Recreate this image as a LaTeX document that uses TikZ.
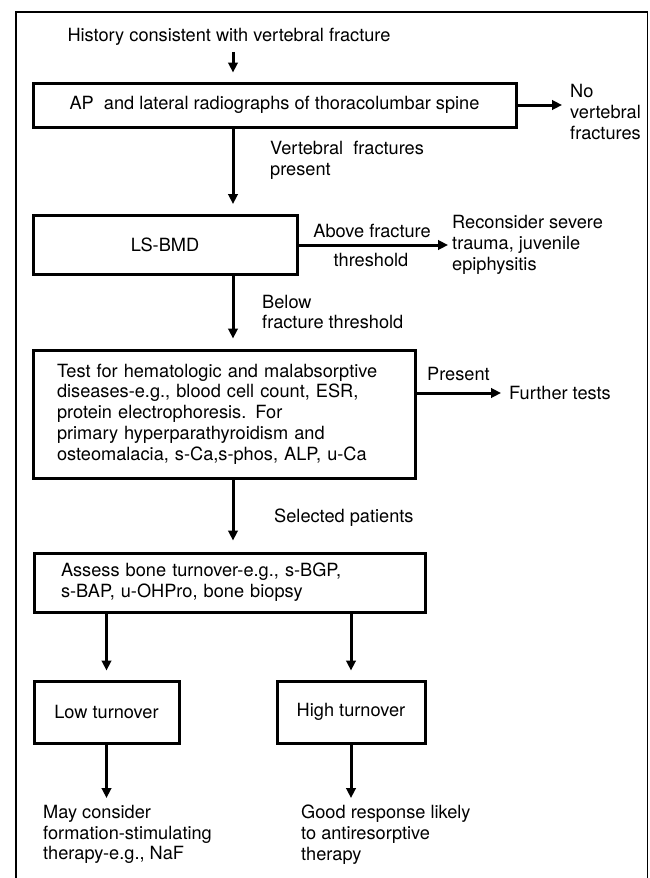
\documentclass[tikz,border=0pt]{standalone}
\usepackage{fontspec}
\setmainfont{TeX Gyre Heros}
\usetikzlibrary{arrows.meta}
\newcommand{\fsz}{\fontsize{18.2}{20.7}\selectfont}
\begin{document}
\begin{tikzpicture}[x=1pt,y=-1pt,
  box/.style={draw, line width=3pt, inner sep=0pt, font=\fsz, align=center},
  lbox/.style={draw, line width=3pt, inner ysep=0pt, font=\fsz, align=left},
  txt/.style={inner sep=0pt, font=\fsz, align=left},
  arr/.style={line width=3pt, -{Triangle[length=10pt,width=9.5pt]}},
  frame/.style={line width=1.8pt}
]
\useasboundingbox (0,0) rectangle (650,878);
\begin{scope}
\clip (0,0) rectangle (650,878);
\draw[frame] (16,900) -- (16,12) -- (647.5,12) -- (647.5,900);
\end{scope}
\coordinate (col) at (233,0);

\node[txt, anchor=center] (hist) at (229,37) {History consistent with vertebral fracture};
\node[box, minimum width=483pt, minimum height=44pt] (xray) at (274.5,105) {AP\ \ and lateral radiographs of thoracolumbar spine};
\node[txt, anchor=west] (novf) at (570,112) {No\\vertebral\\fractures};
\node[txt, anchor=west] (vfp) at (270,160) {Vertebral\ \ fractures\\present};
\node[box, minimum width=264pt, minimum height=59pt] (bmd) at (165,245) {LS-BMD};
\node[txt, anchor=west] (recon) at (452,245) {Reconsider severe\\trauma, juvenile\\epiphysitis};
\node[txt, anchor=center] (abv1) at (372,231) {Above fracture};
\node[txt, anchor=center] (abv2) at (371,260) {threshold};
\node[txt, anchor=west] (below) at (262,312) {Below\\fracture threshold};
\node[lbox, text width=334pt, inner xsep=24pt, minimum height=128pt] (tests) at (224,414) {Test for hematologic and malabsorptive\\diseases-e.g., blood cell count, ESR,\\protein electrophoresis. For\\primary hyperparathyroidism and\\osteomalacia, s-Ca,s-phos, ALP, u-Ca};
\node[txt, anchor=west] (present) at (427,374) {Present};
\node[txt, anchor=west] (further) at (509,393) {Further tests};
\node[txt, anchor=west] (sel) at (274,518) {Selected patients};
\node[lbox, text width=337pt, inner xsep=27pt, minimum height=59pt] (turn) at (229.5,582.5) {Assess bone turnover-e.g., s-BGP,\\s-BAP, u-OHPro, bone biopsy};
\node[box, minimum width=145pt, minimum height=62pt] (low) at (106.5,712) {Low turnover};
\node[box, minimum width=148pt, minimum height=62pt] (high) at (351,712) {High turnover};
\node[txt, anchor=north west] (may) at (43,805) {May consider\\formation-stimulating\\therapy-e.g., NaF};
\node[txt, anchor=north west] (good) at (301,805) {Good response likely\\to antiresorptive\\therapy};

\draw[arr, shorten <=6pt, shorten >=9pt] (hist.south -| col) -- (xray.north -| col);
\draw[arr, shorten >=8pt] (xray.east) -- (xray.east -| novf.west);
\draw[arr, shorten >=10pt] (xray.south -| col) -- (bmd.north -| col);
\draw[arr, shorten >=4pt] (bmd.east) -- (bmd.east -| recon.west);
\draw[arr, shorten >=10pt] (bmd.south -| col) -- (tests.north -| col);
\draw[arr, shorten >=8pt] (tests.east |- further.west) -- (further.west);
\draw[arr, shorten >=11pt] (tests.south -| col) -- (turn.north -| col);
\draw[arr, shorten >=9pt] (turn.south -| low.north) -- (low.north);
\draw[arr, shorten >=9pt] (turn.south -| high.north) -- (high.north);
\draw[arr, shorten >=7pt] (low.south) -- (low.south |- may.north);
\draw[arr, shorten >=7pt] (high.south) -- (high.south |- good.north);
\end{tikzpicture}
\end{document}
